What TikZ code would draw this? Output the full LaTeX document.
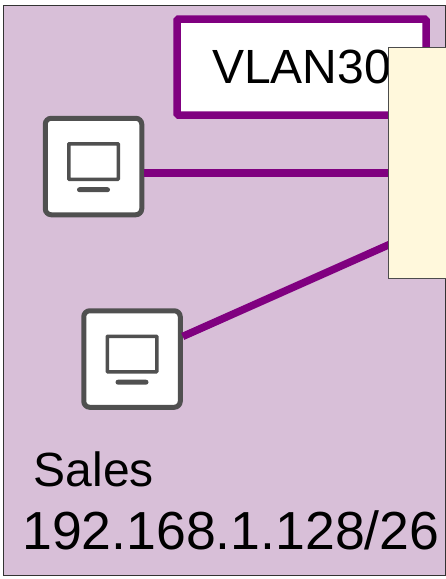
\documentclass[tikz,border=0pt]{standalone}
\usepackage{fontspec}
\setmainfont{Liberation Sans}
\usepackage{tikz}
\usetikzlibrary{positioning}
\definecolor{vlanpurple}{HTML}{800080}
\definecolor{roomfill}{HTML}{D8BFD8}
\definecolor{switchfill}{HTML}{FFF8DC}
\definecolor{pcgray}{HTML}{505050}

\begin{document}
\begin{tikzpicture}[x=1pt, y=-1pt,
	room/.style = {draw=black!80, fill=roomfill, line width=1pt, minimum width=442pt, minimum height=570pt, inner sep=0pt},
	tag/.style = {draw=vlanpurple, fill=white, line width=7.5pt, rounded corners=1.5pt, minimum width=249pt, minimum height=96pt, inner sep=0pt, font=\fontsize{48}{48}\selectfont},
	link/.style = {draw=vlanpurple, line width=7.5pt},
	pc/.style = {draw=pcgray, fill=white, line width=5pt, rounded corners=6pt, minimum size=96.5pt, inner sep=0pt},
	screen/.style = {draw=pcgray, line width=3.5pt, rounded corners=0.5pt, minimum width=49.5pt, minimum height=35.5pt, inner sep=0pt},
	bar/.style = {fill=pcgray, rounded corners=2.5pt, minimum width=33pt, minimum height=5pt, inner sep=0pt},
	switch/.style = {draw=black!70, fill=switchfill, line width=1pt, minimum width=70pt, minimum height=231pt, inner sep=0pt},
	label/.style = {anchor=base west, inner sep=0pt}]
	\useasboundingbox (0,0) rectangle (446,579);
	\node[room] (room) at (224.5,290.5) {};
	\node[tag] (vlan) at (301.5,67) {VLAN30};
	\node[pc] (pc1) at (93.5,166.5) {};
	\node[pc] (pc2) at (132,359) {};
	\node[screen, yshift=5pt] (screen1) at (pc1) {};
	\node[bar, below=6pt of screen1] (bar1) {};
	\node[screen, yshift=5pt] (screen2) at (pc2) {};
	\node[bar, below=6pt of screen2] (bar2) {};
	\coordinate (port1) at (395,173);
	\coordinate (port2) at (395,242);
	\draw[link] (pc1.east |- port1) -- (port1);
	\draw[link] (pc2) -- (port2);
	\node[switch] (switch) at (423,162.5) {};
	\node[label, font=\fontsize{48}{48}\selectfont] (dept) at (33.5,486) {Sales};
	\node[label, font=\fontsize{53.6}{54}\selectfont] (subnet) at (22,549) {192.168.1.128/26};
\end{tikzpicture}
\end{document}
